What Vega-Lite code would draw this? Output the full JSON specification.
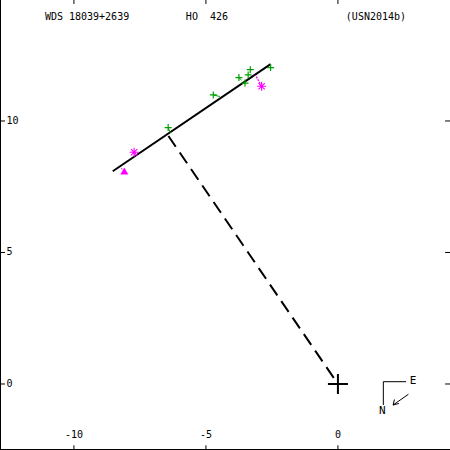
{
  "$schema": "https://vega.github.io/schema/vega-lite/v6.json",
  "width": 450,
  "height": 450,
  "padding": 0,
  "autosize": {"type": "none"},
  "background": "white",
  "config": {"view": {"stroke": null}},
  "layer": [
    {
      "data": {"values": [
        {"x": -12.8, "y": -2.51, "x2": -12.8, "y2": 14.6},
        {"x": -12.8, "y": -2.51, "x2": 4.245, "y2": -2.51}
      ]},
      "mark": {"type": "rule", "color": "black", "strokeWidth": 2},
      "encoding": {
        "x": {"field": "x", "type": "quantitative", "scale": {"domain": [-12.8, 4.245], "nice": false, "zero": false}, "axis": null},
        "y": {"field": "y", "type": "quantitative", "scale": {"domain": [-2.51, 14.6], "nice": false, "zero": false}, "axis": null},
        "x2": {"field": "x2"},
        "y2": {"field": "y2"}
      }
    },
    {
      "data": {"values": [
        {"x": -10, "y": 14.6, "x2": -10, "y2": 14.45},
        {"x": -5, "y": 14.6, "x2": -5, "y2": 14.45},
        {"x": 0, "y": 14.6, "x2": 0, "y2": 14.45},
        {"x": -10, "y": -2.51, "x2": -10, "y2": -2.33},
        {"x": -5, "y": -2.51, "x2": -5, "y2": -2.33},
        {"x": 0, "y": -2.51, "x2": 0, "y2": -2.33},
        {"x": -12.8, "y": 10, "x2": -12.61, "y2": 10},
        {"x": -12.8, "y": 5, "x2": -12.61, "y2": 5},
        {"x": -12.8, "y": 0, "x2": -12.61, "y2": 0},
        {"x": 4.245, "y": 10, "x2": 4.06, "y2": 10},
        {"x": 4.245, "y": 5, "x2": 4.06, "y2": 5},
        {"x": 4.245, "y": 0, "x2": 4.06, "y2": 0}
      ]},
      "mark": {"type": "rule", "color": "black", "strokeWidth": 1},
      "encoding": {
        "x": {"field": "x", "type": "quantitative"},
        "y": {"field": "y", "type": "quantitative"},
        "x2": {"field": "x2"},
        "y2": {"field": "y2"}
      }
    },
    {
      "data": {"values": [
        {"x": -10, "y": -1.94, "t": "-10"},
        {"x": -5, "y": -1.94, "t": "-5"},
        {"x": 0, "y": -1.94, "t": "0"}
      ]},
      "mark": {"type": "text", "font": "DejaVu Sans Mono", "fontSize": 10, "align": "center", "baseline": "middle", "color": "black"},
      "encoding": {
        "x": {"field": "x", "type": "quantitative"},
        "y": {"field": "y", "type": "quantitative"},
        "text": {"field": "t"}
      }
    },
    {
      "data": {"values": [
        {"x": -12.55, "y": 10, "t": "10"},
        {"x": -12.55, "y": 5, "t": "5"},
        {"x": -12.55, "y": 0, "t": "0"},
        {"x": -11.1, "y": 13.94, "t": "WDS 18039+2639"},
        {"x": -5.76, "y": 13.94, "t": "HO\u00a0\u00a0426"},
        {"x": 0.3, "y": 13.94, "t": "(USN2014b)"}
      ]},
      "mark": {"type": "text", "font": "DejaVu Sans Mono", "fontSize": 10, "align": "left", "baseline": "middle", "color": "black"},
      "encoding": {
        "x": {"field": "x", "type": "quantitative"},
        "y": {"field": "y", "type": "quantitative"},
        "text": {"field": "t"}
      }
    },
    {
      "data": {"values": [
        {"x": -6.42, "y": 9.43, "x2": 0, "y2": 0}
      ]},
      "mark": {"type": "rule", "color": "black", "strokeWidth": 2, "strokeDash": [13, 7]},
      "encoding": {
        "x": {"field": "x", "type": "quantitative"},
        "y": {"field": "y", "type": "quantitative"},
        "x2": {"field": "x2"},
        "y2": {"field": "y2"}
      }
    },
    {
      "data": {"values": [
        {"x": -8.53, "y": 8.09, "x2": -2.55, "y2": 12.16}
      ]},
      "mark": {"type": "rule", "color": "black", "strokeWidth": 2},
      "encoding": {
        "x": {"field": "x", "type": "quantitative"},
        "y": {"field": "y", "type": "quantitative"},
        "x2": {"field": "x2"},
        "y2": {"field": "y2"}
      }
    },
    {
      "data": {"values": [
        {"x": -2.89, "y": 11.32, "x2": -3.13, "y2": 11.75},
        {"x": -8.09, "y": 8.1, "x2": -8.2, "y2": 8.2},
        {"x": -7.72, "y": 8.81, "x2": -7.64, "y2": 8.68}
      ]},
      "mark": {"type": "rule", "color": "#ff00ff", "strokeWidth": 1.3, "strokeDash": [2, 1]},
      "encoding": {
        "x": {"field": "x", "type": "quantitative"},
        "y": {"field": "y", "type": "quantitative"},
        "x2": {"field": "x2"},
        "y2": {"field": "y2"}
      }
    },
    {
      "data": {"values": [
        {"x": -6.43, "y": 9.75, "x2": -6.35, "y2": 9.55},
        {"x": -4.72, "y": 10.99, "x2": -4.47, "y2": 10.93},
        {"x": -3.75, "y": 11.65, "x2": -3.65, "y2": 11.55}
      ]},
      "mark": {"type": "rule", "color": "#00a000", "strokeWidth": 1},
      "encoding": {
        "x": {"field": "x", "type": "quantitative"},
        "y": {"field": "y", "type": "quantitative"},
        "x2": {"field": "x2"},
        "y2": {"field": "y2"}
      }
    },
    {
      "data": {"values": [
        {"x": -6.43, "y": 9.75},
        {"x": -4.72, "y": 10.99},
        {"x": -3.75, "y": 11.65},
        {"x": -3.52, "y": 11.44},
        {"x": -3.32, "y": 11.95},
        {"x": -3.4, "y": 11.75},
        {"x": -2.55, "y": 12.03}
      ]},
      "mark": {"type": "point", "shape": "M-1,0L1,0M0,-1L0,1", "size": 49, "stroke": "#00a000", "strokeWidth": 1.2, "filled": false, "opacity": 1},
      "encoding": {
        "x": {"field": "x", "type": "quantitative"},
        "y": {"field": "y", "type": "quantitative"}
      }
    },
    {
      "data": {"values": [
        {"x": -7.72, "y": 8.81},
        {"x": -2.89, "y": 11.32}
      ]},
      "mark": {"type": "point", "shape": "M-1,0L1,0M0,-1L0,1M-0.7,-0.7L0.7,0.7M-0.7,0.7L0.7,-0.7", "size": 81, "stroke": "#ff00ff", "strokeWidth": 1.1, "filled": false, "opacity": 1},
      "encoding": {
        "x": {"field": "x", "type": "quantitative"},
        "y": {"field": "y", "type": "quantitative"}
      }
    },
    {
      "data": {"values": [
        {"x": -8.09, "y": 8.1}
      ]},
      "mark": {"type": "point", "shape": "triangle-up", "size": 64, "fill": "#ff00ff", "filled": true, "opacity": 1},
      "encoding": {
        "x": {"field": "x", "type": "quantitative"},
        "y": {"field": "y", "type": "quantitative"}
      }
    },
    {
      "data": {"values": [
        {"x": 0, "y": 0}
      ]},
      "mark": {"type": "point", "shape": "M-1,0L1,0M0,-1L0,1", "size": 400, "stroke": "black", "strokeWidth": 2, "filled": false, "opacity": 1},
      "encoding": {
        "x": {"field": "x", "type": "quantitative"},
        "y": {"field": "y", "type": "quantitative"}
      }
    },
    {
      "data": {"values": [
        {"x": 1.72, "y": 0.087, "x2": 2.58, "y2": 0.087},
        {"x": 1.72, "y": 0.087, "x2": 1.72, "y2": -0.8},
        {"x": 2.67, "y": -0.39, "x2": 2.09, "y2": -0.8},
        {"x": 2.09, "y": -0.8, "x2": 2.14, "y2": -0.59},
        {"x": 2.09, "y": -0.8, "x2": 2.31, "y2": -0.74}
      ]},
      "mark": {"type": "rule", "color": "black", "strokeWidth": 1},
      "encoding": {
        "x": {"field": "x", "type": "quantitative"},
        "y": {"field": "y", "type": "quantitative"},
        "x2": {"field": "x2"},
        "y2": {"field": "y2"}
      }
    },
    {
      "data": {"values": [
        {"x": 2.85, "y": 0.125, "t": "E"},
        {"x": 1.68, "y": -1.02, "t": "N"}
      ]},
      "mark": {"type": "text", "font": "DejaVu Sans Mono", "fontSize": 11, "align": "center", "baseline": "middle", "color": "black"},
      "encoding": {
        "x": {"field": "x", "type": "quantitative"},
        "y": {"field": "y", "type": "quantitative"},
        "text": {"field": "t"}
      }
    }
  ]
}
